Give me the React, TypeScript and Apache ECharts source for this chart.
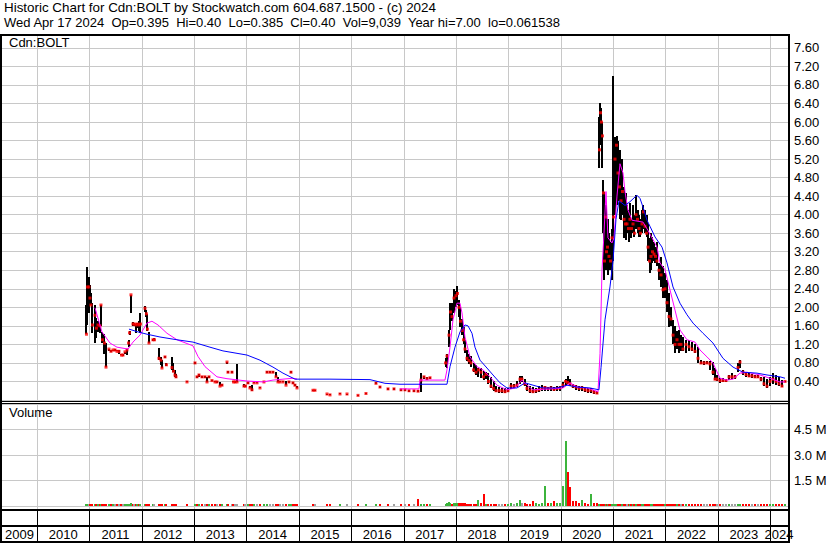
import React, { useEffect, useRef } from "react";
import * as echarts from "echarts";

const FONT = '"Liberation Sans", Arial, sans-serif';
const T0 = 2009.332;
const T1 = 2024.343;

const headerLine1 = "Historic Chart for Cdn:BOLT by Stockwatch.com 604.687.1500 - (c) 2024";
const headerLine2 = "Wed Apr 17 2024  Op=0.395  Hi=0.40  Lo=0.385  Cl=0.40  Vol=9,039  Year hi=7.00  lo=0.061538";
const symbolLabel = "Cdn:BOLT";
const volumeLabel = "Volume";

const yearStarts = [2010, 2011, 2012, 2013, 2014, 2015, 2016, 2017, 2018, 2019, 2020, 2021, 2022, 2023, 2024];
const yearLabels = ["2009", "2010", "2011", "2012", "2013", "2014", "2015", "2016", "2017", "2018", "2019", "2020", "2021", "2022", "2023", "2024"];

const priceDates = [
  2010.945, 2010.964, 2010.993, 2011.012, 2011.031, 2011.06, 2011.108, 2011.136, 2011.165, 2011.203,
  2011.222, 2011.251, 2011.289, 2011.318, 2011.375, 2011.413, 2011.452, 2011.49, 2011.528, 2011.566,
  2011.614, 2011.642, 2011.681, 2011.719, 2011.748, 2011.767, 2011.795, 2011.833, 2011.862, 2011.891,
  2011.919, 2011.948, 2011.977, 2012.063, 2012.091, 2012.11, 2012.139, 2012.215, 2012.244, 2012.33,
  2012.368, 2012.387, 2012.445, 2012.473, 2012.578, 2012.607, 2012.636, 2012.655, 2012.865, 2013.018,
  2013.056, 2013.094, 2013.151, 2013.209, 2013.247, 2013.285, 2013.342, 2013.4, 2013.438, 2013.495,
  2013.533, 2013.629, 2013.648, 2013.724, 2013.753, 2013.782, 2013.82, 2013.953, 2013.982, 2014.03,
  2014.068, 2014.106, 2014.144, 2014.202, 2014.259, 2014.335, 2014.393, 2014.45, 2014.507, 2014.565,
  2014.603, 2014.641, 2014.698, 2014.756, 2014.813, 2014.851, 2014.889, 2014.927, 2014.966, 2015.271,
  2015.309, 2015.539, 2015.596, 2015.787, 2015.921, 2016.131, 2016.283, 2016.474, 2016.551, 2016.704,
  2016.818, 2016.952, 2017.028, 2017.105, 2017.2, 2017.277, 2017.334, 2017.391, 2017.448, 2017.506,
  2017.802, 2017.83, 2017.869, 2017.897, 2017.926, 2017.964, 2018.002, 2018.031, 2018.06, 2018.088,
  2018.117, 2018.146, 2018.174, 2018.212, 2018.251, 2018.289, 2018.337, 2018.384, 2018.432, 2018.48,
  2018.528, 2018.575, 2018.623, 2018.671, 2018.719, 2018.766, 2018.824, 2018.881, 2018.938, 2018.995,
  2019.053, 2019.11, 2019.167, 2019.225, 2019.263, 2019.311, 2019.358, 2019.416, 2019.473, 2019.53,
  2019.587, 2019.645, 2019.702, 2019.759, 2019.817, 2019.874, 2019.931, 2019.989, 2020.046, 2020.094,
  2020.132, 2020.18, 2020.237, 2020.294, 2020.351, 2020.409, 2020.466, 2020.523, 2020.581, 2020.638,
  2020.695, 2020.743, 2020.762, 2020.781, 2020.8, 2020.819, 2020.838, 2020.858, 2020.877, 2020.896,
  2020.924, 2020.953, 2020.982, 2021.01, 2021.039, 2021.068, 2021.096, 2021.125, 2021.154, 2021.182,
  2021.211, 2021.24, 2021.268, 2021.297, 2021.325, 2021.354, 2021.383, 2021.411, 2021.44, 2021.469,
  2021.497, 2021.526, 2021.555, 2021.583, 2021.612, 2021.641, 2021.669, 2021.698, 2021.727, 2021.755,
  2021.784, 2021.812, 2021.841, 2021.879, 2021.918, 2021.956, 2021.994, 2022.032, 2022.07, 2022.108,
  2022.147, 2022.185, 2022.223, 2022.261, 2022.299, 2022.338, 2022.395, 2022.452, 2022.509, 2022.567,
  2022.624, 2022.681, 2022.739, 2022.796, 2022.853, 2022.91, 2022.949, 2022.987, 2023.044, 2023.101,
  2023.159, 2023.216, 2023.273, 2023.331, 2023.388, 2023.426, 2023.483, 2023.541, 2023.598, 2023.655,
  2023.713, 2023.77, 2023.827, 2023.884, 2023.942, 2023.999, 2024.056, 2024.114, 2024.171, 2024.228,
  2024.286,
];

const priceHigh = [
  2.05, 2.87, 2.65, 2.48, 2.3, 2.1, 2.05, 1.77, 1.7, 1.65,
  2.05, 1.47, 1.42, 1.23, 1.1, 1.08, 1.08, 1.1, 1.08, 1.08,
  1.0, 1.0, 1.04, 1.1, 1.3, 1.5, 2.27, 1.68, 1.66, 1.64,
  1.66, 1.7, 1.88, 2.03, 1.95, 1.86, 1.47, 1.32, 1.33, 1.12,
  0.93, 0.86, 0.95, 0.8, 0.93, 0.8, 0.65, 0.56, 0.41, 0.82,
  0.52, 0.56, 0.52, 0.52, 0.5, 0.52, 0.44, 0.41, 0.4, 0.39,
  0.35, 0.83, 0.62, 0.62, 0.42, 0.4, 0.78, 0.35, 0.32, 0.39,
  0.3, 0.32, 0.38, 0.38, 0.28, 0.41, 0.62, 0.62, 0.62, 0.6,
  0.5, 0.42, 0.42, 0.4, 0.4, 0.62, 0.39, 0.34, 0.3, 0.22,
  0.22, 0.13, 0.12, 0.15, 0.14, 0.11, 0.15, 0.38, 0.3, 0.26,
  0.25, 0.24, 0.24, 0.22, 0.22, 0.22, 0.58, 0.52, 0.5, 0.5,
  0.9, 1.0, 1.51, 2.09, 2.1, 2.4, 2.35, 2.46, 2.16, 2.0,
  1.75, 1.58, 1.3, 1.08, 1.0, 0.95, 0.8, 0.75, 0.7, 0.69,
  0.62, 0.6, 0.58, 0.5, 0.4, 0.3, 0.28, 0.25, 0.26, 0.25,
  0.37, 0.35, 0.4, 0.52, 0.52, 0.45, 0.35, 0.3, 0.28, 0.25,
  0.3, 0.32, 0.3, 0.28, 0.3, 0.28, 0.3, 0.3, 0.38, 0.45,
  0.52, 0.45, 0.35, 0.32, 0.3, 0.3, 0.28, 0.25, 0.25, 0.22,
  0.2, 6.1, 6.41, 6.3, 6.0, 4.74, 4.5, 4.2, 3.9, 3.9,
  3.6, 3.4, 3.7, 7.0, 5.68, 5.7, 5.6, 5.4, 5.0, 5.2,
  4.6, 4.47, 4.2, 4.1, 4.25, 3.9, 4.2, 4.0, 4.42, 4.1,
  4.0, 3.9, 4.1, 4.2, 4.1, 4.0, 3.8, 3.5, 3.6, 3.52,
  3.4, 3.3, 3.4, 2.96, 3.09, 2.9, 2.74, 2.6, 2.3, 2.0,
  1.73, 1.6, 1.5, 1.51, 1.4, 1.35, 1.3, 1.3, 1.25, 1.2,
  1.14, 0.86, 0.84, 0.85, 0.84, 0.82, 0.7, 0.55, 0.47, 0.47,
  0.45, 0.55, 0.58, 0.55, 0.8, 0.86, 0.65, 0.6, 0.58, 0.56,
  0.55, 0.55, 0.5, 0.5, 0.45, 0.5, 0.58, 0.55, 0.5, 0.43,
  0.4,
];

const priceLow = [
  1.42, 1.62, 1.88, 2.05, 2.05, 1.45, 1.23, 1.34, 1.47, 1.45,
  1.6, 1.23, 1.0, 0.71, 1.05, 1.03, 1.05, 1.05, 1.05, 1.0,
  0.97, 0.95, 1.0, 0.97, 1.15, 1.4, 1.88, 1.6, 1.6, 1.45,
  1.55, 1.5, 1.45, 1.9, 1.8, 1.5, 1.23, 1.27, 1.28, 0.86,
  0.75, 0.69, 0.9, 0.74, 0.65, 0.6, 0.5, 0.48, 0.38, 0.78,
  0.48, 0.5, 0.48, 0.48, 0.38, 0.48, 0.4, 0.38, 0.37, 0.3,
  0.3, 0.78, 0.58, 0.58, 0.38, 0.37, 0.39, 0.28, 0.28, 0.35,
  0.25, 0.2, 0.36, 0.36, 0.25, 0.38, 0.58, 0.58, 0.58, 0.5,
  0.39, 0.38, 0.38, 0.32, 0.37, 0.58, 0.35, 0.3, 0.25, 0.2,
  0.2, 0.11, 0.1, 0.12, 0.12, 0.09, 0.12, 0.34, 0.26, 0.22,
  0.22, 0.2, 0.2, 0.18, 0.18, 0.18, 0.18, 0.45, 0.43, 0.45,
  0.71, 0.7, 1.14, 1.51, 1.7, 1.88, 2.0, 2.05, 1.8, 1.58,
  1.4, 1.2, 1.01, 0.85, 0.78, 0.72, 0.6, 0.55, 0.5, 0.48,
  0.43, 0.45, 0.35, 0.25, 0.2, 0.18, 0.15, 0.15, 0.15, 0.17,
  0.24, 0.25, 0.28, 0.35, 0.38, 0.3, 0.2, 0.15, 0.15, 0.15,
  0.18, 0.2, 0.2, 0.2, 0.2, 0.2, 0.2, 0.2, 0.25, 0.3,
  0.35, 0.3, 0.25, 0.22, 0.2, 0.2, 0.18, 0.16, 0.15, 0.14,
  0.13, 5.0, 5.5, 5.6, 5.0, 3.6, 2.6, 2.8, 2.8, 2.7,
  2.9, 2.8, 2.6, 3.0, 4.0, 4.2, 4.3, 3.9, 3.88, 4.0,
  3.5, 3.45, 3.6, 3.4, 3.55, 3.5, 3.6, 3.52, 3.7, 3.6,
  3.52, 3.52, 3.6, 3.7, 3.6, 3.52, 3.0, 2.74, 2.8, 2.96,
  3.0, 2.96, 2.9, 2.6, 2.44, 2.2, 2.2, 1.9, 1.58, 1.6,
  1.2, 1.01, 1.1, 1.01, 1.05, 1.05, 1.01, 1.05, 1.05, 1.01,
  0.8, 0.78, 0.76, 0.77, 0.65, 0.55, 0.43, 0.4, 0.37, 0.38,
  0.38, 0.43, 0.45, 0.45, 0.6, 0.7, 0.55, 0.5, 0.5, 0.48,
  0.47, 0.47, 0.4, 0.3, 0.26, 0.3, 0.35, 0.32, 0.3, 0.28,
  0.385,
];

const priceClose = [
  1.42, 2.44, 2.44, 2.2, 2.05, 1.62, 1.83, 1.55, 1.62, 1.6,
  2.05, 1.3, 1.23, 0.71, 1.1, 1.05, 1.08, 1.08, 1.05, 1.05,
  0.97, 0.97, 1.04, 1.08, 1.23, 1.45, 2.27, 1.64, 1.64, 1.62,
  1.64, 1.62, 1.64, 1.98, 1.86, 1.53, 1.23, 1.3, 1.3, 0.9,
  0.86, 0.69, 0.93, 0.76, 0.7, 0.62, 0.54, 0.5, 0.39, 0.8,
  0.5, 0.54, 0.5, 0.5, 0.39, 0.5, 0.42, 0.39, 0.39, 0.3,
  0.32, 0.82, 0.6, 0.6, 0.39, 0.39, 0.39, 0.3, 0.3, 0.37,
  0.26, 0.22, 0.37, 0.37, 0.26, 0.39, 0.6, 0.6, 0.6, 0.5,
  0.39, 0.39, 0.39, 0.32, 0.39, 0.6, 0.37, 0.32, 0.26, 0.21,
  0.21, 0.13, 0.11, 0.13, 0.13, 0.1, 0.14, 0.36, 0.28, 0.24,
  0.24, 0.22, 0.22, 0.2, 0.2, 0.19, 0.43, 0.5, 0.46, 0.48,
  0.8, 0.95, 1.4, 1.9, 1.8, 2.2, 2.25, 2.3, 2.0, 1.7,
  1.5, 1.3, 1.1, 0.9, 0.85, 0.8, 0.65, 0.6, 0.65, 0.6,
  0.5, 0.55, 0.4, 0.3, 0.25, 0.2, 0.2, 0.2, 0.18, 0.2,
  0.3, 0.3, 0.32, 0.45, 0.45, 0.35, 0.25, 0.2, 0.18, 0.2,
  0.22, 0.25, 0.27, 0.25, 0.26, 0.23, 0.25, 0.26, 0.32, 0.4,
  0.38, 0.35, 0.3, 0.28, 0.25, 0.26, 0.22, 0.2, 0.21, 0.17,
  0.15, 5.4, 6.2, 6.0, 5.7, 4.47, 3.0, 3.95, 3.2, 3.3,
  3.1, 3.0, 3.5, 3.95, 5.2, 5.5, 4.9, 4.6, 4.3, 4.5,
  3.9, 3.8, 3.8, 3.7, 3.9, 3.7, 3.8, 3.6, 4.0, 3.9,
  3.7, 3.6, 3.8, 4.06, 3.75, 3.6, 3.3, 3.0, 3.1, 3.2,
  3.15, 3.1, 3.0, 2.8, 2.7, 2.38, 2.4, 2.1, 1.8, 1.75,
  1.4, 1.2, 1.3, 1.2, 1.2, 1.1, 1.2, 1.15, 1.1, 1.05,
  0.9, 0.8, 0.8, 0.8, 0.78, 0.6, 0.45, 0.45, 0.42, 0.42,
  0.42, 0.5, 0.5, 0.5, 0.7, 0.82, 0.6, 0.55, 0.52, 0.52,
  0.5, 0.5, 0.45, 0.35, 0.3, 0.4, 0.45, 0.4, 0.35, 0.3,
  0.4,
];

// volume in thousands of shares
const volumeK = [
  80, 120, 90, 70, 60, 80, 70, 50, 40, 40,
  60, 50, 50, 60, 40, 30, 30, 30, 30, 30,
  30, 30, 30, 40, 40, 50, 150, 50, 40, 40,
  40, 40, 50, 60, 50, 50, 60, 40, 30, 50,
  40, 40, 30, 30, 40, 40, 40, 30, 30, 30,
  30, 30, 30, 30, 40, 30, 30, 30, 30, 40,
  30, 30, 30, 30, 30, 30, 40, 30, 30, 30,
  30, 40, 30, 30, 30, 30, 40, 30, 30, 30,
  30, 30, 30, 30, 30, 30, 30, 30, 30, 20,
  20, 20, 20, 20, 20, 20, 20, 30, 30, 30,
  30, 40, 40, 40, 40, 440, 120, 60, 50, 50,
  100, 150, 260, 150, 120, 150, 180, 200, 200, 200,
  180, 150, 150, 120, 100, 100, 120, 100, 380, 150,
  730, 120, 100, 130, 100, 90, 80, 90, 90, 100,
  150, 120, 150, 380, 200, 150, 100, 100, 320, 150,
  120, 150, 1200, 200, 150, 300, 200, 150, 1200, 3800,
  2000, 1100, 320, 320, 200, 380, 150, 120, 730, 150,
  200, 60, 60, 50, 50, 50, 50, 40, 40, 40,
  30, 30, 30, 50, 40, 40, 30, 30, 30, 30,
  30, 30, 30, 30, 30, 30, 30, 30, 30, 30,
  30, 30, 30, 30, 30, 30, 30, 30, 30, 30,
  30, 30, 30, 30, 30, 30, 30, 30, 30, 30,
  30, 30, 30, 30, 30, 30, 30, 30, 30, 30,
  30, 30, 30, 30, 30, 30, 30, 30, 30, 30,
  30, 30, 30, 30, 40, 40, 30, 30, 30, 30,
  30, 30, 30, 30, 30, 30, 30, 30, 30, 30,
  9,
];

// short moving average (magenta), null = no line
const shortMA: [number, number | null][] = [
  [2011.108, 1.99], [2011.241, 1.47], [2011.394, 1.23], [2011.528, 1.14], [2011.738, 1.1], [2011.833, 1.25],
  [2011.967, 1.4], [2012.101, 1.66], [2012.196, 1.7], [2012.311, 1.62], [2012.483, 1.44], [2012.674, 1.3],
  [2012.979, 1.17], [2013.075, 0.94], [2013.209, 0.72], [2013.438, 0.5], [2013.629, 0.46], [2014.011, 0.41],
  [2014.316, 0.39], [2014.507, 0.43], [2014.889, 0.47], [2014.966, 0.45], [2015.5, null],
  [2016.933, 0.24], [2017.296, 0.24], [2017.315, 0.43], [2017.792, 0.43], [2017.83, 0.65], [2017.888, 1.14],
  [2017.945, 1.73], [2018.021, 2.09], [2018.079, 2.09], [2018.117, 1.88], [2018.174, 1.36], [2018.27, 0.93],
  [2018.403, 0.72], [2018.518, 0.65], [2018.652, 0.5], [2018.785, 0.32], [2018.976, 0.22], [2019.129, 0.26],
  [2019.263, 0.43], [2019.358, 0.32], [2019.473, 0.22], [2019.798, 0.24], [2020.046, 0.26], [2020.18, 0.37],
  [2020.313, 0.28], [2020.504, 0.26], [2020.714, 0.18], [2020.753, 1.0], [2020.791, 2.8], [2020.829, 3.6],
  [2020.867, 4.5], [2020.905, 3.5], [2020.982, 3.39], [2021.02, 3.5], [2021.077, 4.4], [2021.134, 5.1],
  [2021.192, 4.9], [2021.23, 4.5], [2021.287, 4.1], [2021.364, 3.88], [2021.574, 3.84], [2021.669, 3.66],
  [2021.746, 3.5], [2021.841, 3.3], [2021.898, 2.96], [2021.994, 2.81], [2022.089, 2.38], [2022.185, 1.94],
  [2022.28, 1.51], [2022.414, 1.3], [2022.567, 1.25], [2022.662, 1.08], [2022.796, 0.93], [2022.91, 0.8],
  [2023.044, 0.47], [2023.178, 0.43], [2023.293, 0.45], [2023.426, 0.58], [2023.56, 0.6], [2023.808, 0.54],
  [2023.999, 0.47], [2024.19, 0.39], [2024.286, 0.39],
];

// long moving average (blue)
const longMA: [number, number][] = [
  [2011.757, 1.53], [2011.929, 1.47], [2012.101, 1.42], [2012.349, 1.36], [2012.674, 1.3], [2012.979, 1.25],
  [2013.304, 1.14], [2013.552, 1.06], [2014.011, 0.97], [2014.259, 0.86], [2014.507, 0.71], [2014.698, 0.58],
  [2014.927, 0.45], [2015.596, 0.45], [2016.36, 0.44], [2016.646, 0.36], [2016.933, 0.34], [2017.83, 0.34],
  [2017.888, 0.72], [2017.983, 1.14], [2018.079, 1.47], [2018.174, 1.62], [2018.232, 1.6], [2018.308, 1.44],
  [2018.365, 1.14], [2018.461, 0.86], [2018.594, 0.69], [2018.709, 0.54], [2018.843, 0.37], [2018.976, 0.26],
  [2019.167, 0.26], [2019.32, 0.37], [2019.473, 0.32], [2019.664, 0.26], [2019.931, 0.26], [2020.122, 0.32],
  [2020.313, 0.28], [2020.561, 0.26], [2020.733, 0.22], [2020.772, 0.7], [2020.848, 1.73], [2020.943, 2.44],
  [2021.001, 3.0], [2021.058, 3.9], [2021.115, 4.3], [2021.23, 4.2], [2021.325, 4.28], [2021.459, 4.42],
  [2021.517, 4.35], [2021.593, 4.1], [2021.65, 3.88], [2021.707, 3.75], [2021.803, 3.52], [2021.937, 3.3],
  [2022.032, 2.96], [2022.147, 2.44], [2022.28, 2.09], [2022.414, 1.84], [2022.529, 1.66], [2022.72, 1.44],
  [2022.91, 1.23], [2023.101, 0.9], [2023.293, 0.71], [2023.483, 0.6], [2023.751, 0.58], [2023.942, 0.54],
  [2024.19, 0.5], [2024.286, 0.47],
];

const GRID = "#c8c8c8";
const GREEN = "#3cb43c";
const RED = "#ff0000";
const GRAY = "#a0a0a0";

function vLine(color: string, extra: number) {
  return (params: any, api: any) => {
    const cs = params.coordSys;
    const x = Math.round(api.coord([api.value(0), 0])[0]) + 0.5;
    return {
      type: "line",
      shape: { x1: x, y1: cs.y, x2: x, y2: cs.y + cs.height + extra },
      style: { stroke: color, lineWidth: 1 },
      silent: true,
    };
  };
}

function buildOption(): any {
  const barData = priceDates.map((t, i) => [t, priceHigh[i], priceLow[i]]);
  const closeData = priceDates.map((t, i) => [t, priceClose[i]]);
  const volData = priceDates.map((t, i) => {
    const d = i === 0 ? 1 : Math.sign(priceClose[i] - priceClose[i - 1]);
    return [t, volumeK[i] * 1000, d];
  });
  const labelCenters = yearLabels.map((_, i) => {
    if (i === 0) return (T0 + yearStarts[0]) / 2;
    const y = yearStarts[i - 1];
    if (i === yearLabels.length - 1) return (y + T1) / 2;
    return y + 0.5;
  });

  const rect = (x: number, y: number, w: number, h: number) => ({
    type: "rect",
    shape: { x, y, width: w, height: h },
    style: { fill: "#000" },
    z: 100,
    silent: true,
  });

  return {
    animation: false,
    backgroundColor: "#ffffff",
    grid: [
      { left: 2, right: 42, top: 34, height: 366 },
      { left: 2, right: 42, top: 403, height: 103 },
      { left: 2, right: 42, top: 511, height: 30 },
    ],
    xAxis: [0, 1, 2].map((i) => ({ type: "value", gridIndex: i, min: T0, max: T1, show: false })),
    yAxis: [
      {
        type: "value",
        gridIndex: 0,
        position: "right",
        min: 0,
        max: 7.9,
        interval: 0.4,
        axisLine: { show: false },
        axisTick: { show: false },
        axisLabel: {
          margin: 6,
          fontSize: 13,
          fontFamily: FONT,
          color: "#000",
          formatter: (v: number) => (v < 0.2 || v > 7.7 ? "" : v.toFixed(2)),
        },
        splitLine: { show: true, lineStyle: { color: GRID, width: 1 } },
      },
      {
        type: "value",
        gridIndex: 1,
        position: "right",
        min: 0,
        max: 6060000,
        interval: 1500000,
        axisLine: { show: false },
        axisTick: { show: false },
        axisLabel: {
          margin: 6,
          fontSize: 13,
          fontFamily: FONT,
          color: "#000",
          formatter: (v: number) => (v <= 0 || v > 5000000 ? "" : (v / 1e6).toFixed(1) + " M"),
        },
        splitLine: { show: true, lineStyle: { color: GRID, width: 1 } },
      },
      { type: "value", gridIndex: 2, min: 0, max: 30, show: false },
    ],
    series: [
      {
        type: "custom",
        xAxisIndex: 0,
        yAxisIndex: 0,
        data: yearStarts.map((y) => [y, 0]),
        encode: { x: 0, y: 1 },
        renderItem: vLine(GRID, 0),
        silent: true,
        z: 1,
      },
      {
        type: "custom",
        xAxisIndex: 1,
        yAxisIndex: 1,
        data: yearStarts.map((y) => [y, 0]),
        encode: { x: 0, y: 1 },
        renderItem: vLine(GRID, 3),
        silent: true,
        z: 1,
      },
      {
        type: "custom",
        xAxisIndex: 2,
        yAxisIndex: 2,
        data: yearStarts.map((y) => [y, 0]),
        encode: { x: 0, y: 1 },
        renderItem: vLine("#000", 0),
        silent: true,
        z: 1,
      },
      {
        type: "custom",
        xAxisIndex: 2,
        yAxisIndex: 2,
        data: labelCenters.map((c) => [c, 0]),
        encode: { x: 0, y: 1 },
        renderItem: (params: any, api: any) => {
          const cs = params.coordSys;
          const x = api.coord([api.value(0), 0])[0];
          return {
            type: "text",
            x,
            y: cs.y + 23.5,
            style: {
              text: yearLabels[params.dataIndex],
              fill: "#000",
              font: `13px ${FONT}`,
              textAlign: "center",
              textVerticalAlign: "middle",
            },
            silent: true,
          };
        },
        silent: true,
        z: 3,
      },
      {
        type: "custom",
        name: "High-Low",
        xAxisIndex: 0,
        yAxisIndex: 0,
        data: barData,
        encode: { x: 0, y: [1, 2] },
        renderItem: (params: any, api: any) => {
          const t = api.value(0);
          const h = api.coord([t, api.value(1)]);
          const l = api.coord([t, api.value(2)]);
          const x = Math.round(h[0]);
          const y1 = Math.round(h[1]);
          let y2 = Math.round(l[1]);
          if (y2 - y1 < 1) y2 = y1 + 1;
          return {
            type: "rect",
            shape: { x: x - 1, y: y1, width: 2, height: y2 - y1 },
            style: { fill: "#000" },
          };
        },
        silent: true,
        z: 2,
      },
      {
        type: "scatter",
        name: "Close",
        xAxisIndex: 0,
        yAxisIndex: 0,
        data: closeData,
        symbol: "rect",
        symbolSize: 3,
        itemStyle: { color: RED },
        silent: true,
        z: 3,
      },
      {
        type: "line",
        name: "Short MA",
        xAxisIndex: 0,
        yAxisIndex: 0,
        data: shortMA.map(([t, v]) => [t, v === null ? "-" : v]),
        showSymbol: false,
        connectNulls: false,
        lineStyle: { color: "#ff00ff", width: 1 },
        itemStyle: { color: "#ff00ff" },
        silent: true,
        z: 4,
      },
      {
        type: "line",
        name: "Long MA",
        xAxisIndex: 0,
        yAxisIndex: 0,
        data: longMA,
        showSymbol: false,
        lineStyle: { color: "#0000ff", width: 1 },
        itemStyle: { color: "#0000ff" },
        silent: true,
        z: 5,
      },
      {
        type: "custom",
        name: "Volume",
        xAxisIndex: 1,
        yAxisIndex: 1,
        data: volData,
        encode: { x: 0, y: 1 },
        renderItem: (params: any, api: any) => {
          const t = api.value(0);
          const v = api.value(1);
          const d = api.value(2);
          const top = api.coord([t, v]);
          const base = api.coord([t, 0]);
          const x = Math.round(top[0]);
          let h = Math.round(base[1] - top[1]);
          if (h < 2) h = 2;
          return {
            type: "rect",
            shape: { x: x - 1, y: Math.round(base[1]) - h, width: 2, height: h },
            style: { fill: d > 0 ? GREEN : d < 0 ? RED : GRAY },
          };
        },
        silent: true,
        z: 2,
      },
    ],
    graphic: [
      { type: "text", x: 4, y: 1, style: { text: headerLine1, fill: "#000", font: `13.4px ${FONT}` }, silent: true },
      { type: "text", x: 4, y: 16, style: { text: headerLine2, fill: "#000", font: `13px ${FONT}` }, silent: true },
      { type: "text", x: 9, y: 36, style: { text: symbolLabel, fill: "#000", font: `13px ${FONT}` }, silent: true, z: 50 },
      { type: "text", x: 9, y: 406, style: { text: volumeLabel, fill: "#000", font: `13px ${FONT}` }, silent: true, z: 50 },
      rect(0, 34, 790, 2),
      rect(0, 34, 2, 509),
      rect(788, 34, 2, 509),
      rect(0, 401, 790, 1),
      rect(0, 403, 790, 1),
      rect(0, 509, 790, 2),
      rect(0, 525, 790, 2),
      rect(0, 541, 790, 2),
    ],
  };
}

export default function App() {
  const ref = useRef<HTMLDivElement>(null);
  useEffect(() => {
    document.body.style.margin = "0";
    const chart = echarts.init(ref.current as HTMLDivElement, undefined, { renderer: "svg" });
    chart.setOption(buildOption());
    return () => {
      chart.dispose();
    };
  }, []);
  return <div ref={ref} style={{ width: 830, height: 543, background: "#fff" }} />;
}
